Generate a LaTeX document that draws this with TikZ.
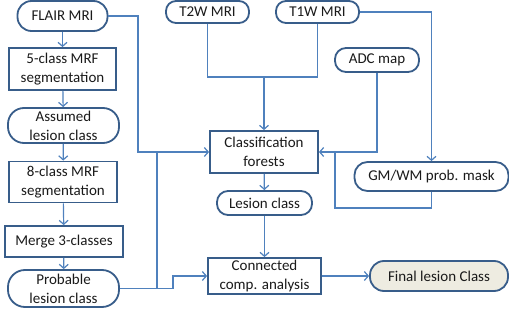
\documentclass[tikz,border=0pt]{standalone}
\usepackage{fontspec}
\setmainfont{Carlito}
\usetikzlibrary{arrows.meta}
\definecolor{linec}{HTML}{4F81BD}
\definecolor{borderc}{HTML}{385D8A}
\definecolor{finalc}{HTML}{EEECE1}
\definecolor{textc}{HTML}{1A1A1A}
\tikzset{
  base/.style={draw=borderc, line width=1.8pt, fill=white, inner sep=0pt, align=center,
    text=textc, font=\fontsize{15}{19}\selectfont},
  boxn/.style={base},
  pill/.style={base, rounded corners=#1},
  pill/.default=11pt,
  conn/.style={draw=linec, line width=1.2pt},
  arr/.style={conn, -{Straight Barb[length=4pt,width=9pt]}},
}
\begin{document}
\begin{tikzpicture}[x=1pt,y=-1pt]
\useasboundingbox (0,0) rectangle (509,324);
% left column
\node[pill=14pt, minimum width=90pt, minimum height=30pt] (flair) at (62.5,16) {FLAIR MRI};
\node[boxn, minimum width=107pt, minimum height=42pt] (mrf5) at (62.5,69) {5-class MRF\\segmentation};
\node[pill=16pt, minimum width=111pt, minimum height=35pt] (assumed) at (63.5,125.5) {Assumed\\lesion class};
\node[boxn, minimum width=108pt, minimum height=41pt] (mrf8) at (63,182) {8-class MRF\\segmentation};
\node[boxn, minimum width=118pt, minimum height=31pt] (merge) at (64,241.5) {Merge 3-classes};
\node[pill=17pt, minimum width=111pt, minimum height=37pt] (probable) at (63.5,288.5) {Probable\\lesion class};
% top inputs
\node[pill=10pt, minimum width=83pt, minimum height=22pt] (t2w) at (207.5,12) {T2W MRI};
\node[pill=10pt, minimum width=83pt, minimum height=22pt] (t1w) at (317.5,12) {T1W MRI};
\node[pill=11pt, minimum width=84pt, minimum height=24pt] (adc) at (377,60) {ADC map};
% middle
\node[boxn, minimum width=108pt, minimum height=42pt] (cf) at (264,152) {Classification\\forests};
\node[pill=11pt, minimum width=95pt, minimum height=24pt] (lesion) at (264.5,203) {Lesion class};
\node[boxn, minimum width=113pt, minimum height=36pt] (cca) at (264.5,276) {Connected\\comp. analysis};
\node[pill=13pt, minimum width=154pt, minimum height=29pt] (gmwm) at (431.5,176.5) {GM/WM prob. mask};
\node[pill=14pt, fill=finalc, minimum width=138pt, minimum height=30pt] (final) at (439,276) {Final lesion Class};
% junctions
\coordinate (j1) at (138,152);
\coordinate (j2) at (157,152);
\coordinate (m) at (264,77);
\coordinate (j3) at (335,152);
\coordinate (j4) at (335,208);
\coordinate (j5) at (173,288.5);
% left column arrows
\draw[arr] (flair) -- (mrf5);
\draw[arr] (mrf5) -- (assumed);
\draw[arr] (assumed) -- (mrf8);
\draw[arr] (mrf8) -- (merge);
\draw[arr] (merge) -- (probable);
% FLAIR to classification forests
\draw[arr] (flair.east) -| (j1) -- (cf.west);
% probable lesion class
\draw[conn] (probable.east) -| (j2);
\draw[arr] (probable.east) -- (j5) |- (cca.west);
% T2W and T1W
\draw[conn] (t2w.south) |- (m);
\draw[conn] (t1w.south) |- (m);
\draw[arr] (m) -- (cf.north);
\draw[arr] (t1w.east) -| (gmwm.north);
% ADC and GM/WM
\draw[arr] (adc.south) |- (cf.east);
\draw[conn] (gmwm.south) |- (j4) -- (j3);
% middle chain
\draw[arr] (cf) -- (lesion);
\draw[arr] (lesion) -- (cca);
\draw[arr] (cca) -- (final);
\end{tikzpicture}
\end{document}
